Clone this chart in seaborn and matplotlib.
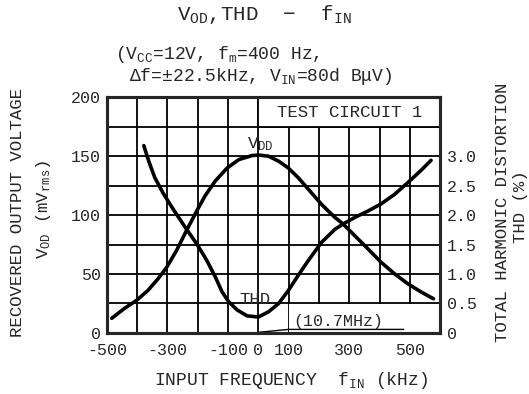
import numpy as np
import pandas as pd
import matplotlib
matplotlib.use('Agg')
import matplotlib.pyplot as plt
import seaborn as sns
from matplotlib.patches import Rectangle

# data
vod_freq = [-484, -442, -401, -364, -331, -303, -270, -237, -203, -176, -142, -103, -64, -20, 1,
            34, 67, 99, 132, 165, 209, 253, 280, 318, 362, 405, 449, 493, 537, 578]
vod_mv = [12.4, 20.8, 27.8, 36.2, 46, 55.5, 70, 87, 103.7, 116.3, 129, 140, 147.2, 150.6, 151,
          150, 145.8, 140, 131.7, 122, 109, 98, 92.4, 82.6, 71.3, 60, 50.3, 41.8, 34.8, 29]
thd_freq = [-378, -362, -342, -314, -281, -237, -203, -170, -142, -120, -98, -70, -37, 0,
            34, 67, 99, 132, 165, 209, 253, 280, 318, 362, 405, 449, 493, 537, 570]
thd_pct = [3.18, 2.92, 2.64, 2.37, 2.10, 1.76, 1.51, 1.23, 0.95, 0.70, 0.53, 0.39, 0.29, 0.27,
           0.36, 0.50, 0.72, 0.98, 1.23, 1.54, 1.76, 1.85, 1.96, 2.07, 2.19, 2.35, 2.55, 2.76, 2.93]
x_ticks = [-500, -300, -100, 0, 100, 300, 500]
left_ticks = [0, 50, 100, 150, 200]
right_ticks = [0, 0.5, 1.0, 1.5, 2.0, 2.5, 3.0]
right_labels = ['0', '0.5', '1.0', '1.5', '2.0', '2.5', '3.0']

sns.set_style('white')
plt.rcParams['font.family'] = ['Liberation Mono', 'DejaVu Sans']
plt.rcParams['mathtext.fontset'] = 'custom'
plt.rcParams['mathtext.rm'] = 'Liberation Mono'
plt.rcParams['mathtext.it'] = 'Liberation Mono'

fig = plt.figure(figsize=(5.29, 3.94), dpi=100)
ax = fig.add_axes([0.202, 0.155, 0.630, 0.598])
ax.set_xlim(-500, 600)
ax.set_ylim(0, 200)

# grid
for v in range(-400, 600, 100):
    ax.axvline(v, color='black', lw=1.3, zorder=0.5)
for h in range(25, 200, 25):
    ax.axhline(h, color='black', lw=1.3, zorder=0.5)

# boxes
ax.add_patch(Rectangle((0, 175), 600, 25, facecolor='white', edgecolor='black', lw=1.3, zorder=0.8))
ax.text(300, 187.5, 'TEST CIRCUIT 1', ha='center', va='center', fontsize=12.5, zorder=1)
ax.add_patch(Rectangle((100, 0.8), 495, 23.5, facecolor='white', edgecolor='none', zorder=0.8))

vod_df = pd.DataFrame({'f': vod_freq, 'v': vod_mv})
sns.lineplot(data=vod_df, x='f', y='v', ax=ax, color='black', lw=2.6, zorder=3)

ax.set_xticks(x_ticks)
ax.set_xticklabels([str(t) for t in x_ticks])
ax.set_yticks(left_ticks)
ax.tick_params(axis='x', direction='in', length=5, width=1.3, labelsize=12, pad=7)
ax.tick_params(axis='y', length=0, labelsize=12, pad=4)
for s in ax.spines.values():
    s.set_linewidth(2.2)
    s.set_color('black')
ax.set_xlabel('')
ax.set_ylabel('')

ax2 = ax.twinx()
ax2.set_ylim(0, 4)
thd_df = pd.DataFrame({'f': thd_freq, 't': thd_pct})
sns.lineplot(data=thd_df, x='f', y='t', ax=ax2, color='black', lw=2.6, zorder=3)
ax2.set_yticks(right_ticks)
ax2.set_yticklabels(right_labels)
ax2.tick_params(axis='y', length=0, labelsize=12, pad=5)
ax2.set_ylabel('')
for s in ax2.spines.values():
    s.set_linewidth(2.2)

# curve labels and annotation
ax.text(5, 153, r'V$_{\mathrm{DD}}$', ha='center', va='bottom', fontsize=12.5)
ax.text(-10, 22, 'THD', ha='center', va='bottom', fontsize=12.5)
ax.text(115, 9.5, '(10.7MHz)', ha='left', va='center', fontsize=12, zorder=1)
ax.plot([0, 100, 480], [0.5, 3, 3], color='black', lw=1.0, zorder=1)

# titles
fig.text(0.5, 0.962, r'V$_{\mathrm{OD}}$,THD  $-$  f$_{\mathrm{IN}}$', ha='center', va='center', fontsize=15)
fig.text(0.218, 0.862, r'(V$_{\mathrm{CC}}$=12V, f$_{\mathrm{m}}$=400 Hz,', ha='left', va='center', fontsize=13)
fig.text(0.243, 0.806, r'$\Delta$f=$\pm$22.5kHz, V$_{\mathrm{IN}}$=80d B$\mu$V)', ha='left', va='center', fontsize=13)

fig.text(0.034, 0.46, 'RECOVERED OUTPUT VOLTAGE', rotation=90, ha='center', va='center', fontsize=12.5)
fig.text(0.083, 0.47, r'V$_{\mathrm{OD}}$ (mV$_{\mathrm{rms}}$)', rotation=90, ha='center', va='center', fontsize=12.5)
fig.text(0.949, 0.46, 'TOTAL HARMONIC DISTORTION', rotation=90, ha='center', va='center', fontsize=12.5)
fig.text(0.983, 0.475, 'THD (%)', rotation=90, ha='center', va='center', fontsize=12.5)
fig.text(0.55, 0.035, r'INPUT FREQUENCY  f$_{\mathrm{IN}}$ (kHz)', ha='center', va='center', fontsize=13)

fig.savefig('out.png', dpi=100, facecolor='white')
